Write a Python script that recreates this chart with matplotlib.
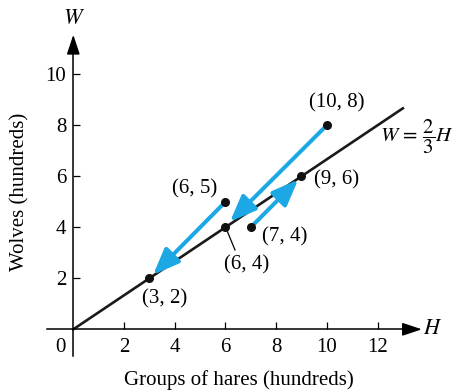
import numpy as np
import matplotlib.pyplot as plt

plt.rcParams['font.family'] = 'Liberation Serif'
plt.rcParams['mathtext.fontset'] = 'stix'

# estados del sistema liebres/lobos (cientos)
points_H = [10, 6, 6, 3, 7, 9]
points_W = [8, 5, 4, 2, 4, 6]
point_labels = ["(10, 8)", "(6, 5)", "(6, 4)", "(3, 2)", "(7, 4)", "(9, 6)"]
label_pos = [(10.4, 8.87), (4.8, 5.5), (6.85, 2.52), (3.62, 1.19), (8.35, 3.62), (10.4, 5.85)]

# flechas: (inicio) -> (punta)
arrows_start = [(10, 8), (6, 5), (7.1, 4.1)]
arrows_end = [(6.18, 4.22), (3.15, 2.14), (8.87, 5.87)]

H_line = np.array([0, 13])
xticks = [2, 4, 6, 8, 10, 12]
yticks = [2, 4, 6, 8, 10]

blue = '#1ba8e4'
fs = 15

fig = plt.figure(figsize=(4.59, 3.91), dpi=100)
ax = fig.add_axes([0.1017, 0.0893, 0.8174, 0.8217])
ax.set_xlim(-1.05, 13.75)
ax.set_ylim(-1.05, 11.55)

for s in ['top', 'right']:
    ax.spines[s].set_visible(False)
ax.spines['left'].set_position(('data', 0))
ax.spines['bottom'].set_position(('data', 0))
ax.spines['bottom'].set_bounds(-1.05, 13.3)
ax.spines['left'].set_bounds(-1.05, 11.0)
ax.spines['left'].set_linewidth(1.1)
ax.spines['bottom'].set_linewidth(1.1)

ax.set_xticks(xticks)
ax.set_yticks(yticks)
ax.tick_params(direction='in', length=5, width=0.9, labelsize=fs, pad=5)
ax.tick_params(axis='x', pad=6)

# puntas de los ejes
ax.annotate('', xy=(13.75, 0), xytext=(13.1, 0),
            arrowprops=dict(arrowstyle='-|>,head_length=0.6,head_width=0.2',
                            color='k', lw=1.1, mutation_scale=20, shrinkA=0, shrinkB=0))
ax.annotate('', xy=(0, 11.55), xytext=(0, 10.9),
            arrowprops=dict(arrowstyle='-|>,head_length=0.6,head_width=0.2',
                            color='k', lw=1.1, mutation_scale=20, shrinkA=0, shrinkB=0))

# recta W = 2/3 H
ax.plot(H_line, 2 / 3 * H_line, color='#1a1a1a', lw=1.9, zorder=2)

for (x0, y0), (x1, y1) in zip(arrows_start, arrows_end):
    ax.annotate('', xy=(x1, y1), xytext=(x0, y0),
                arrowprops=dict(arrowstyle='-|>,head_length=0.8,head_width=0.32',
                                color=blue, lw=2.9, mutation_scale=20,
                                shrinkA=0, shrinkB=0), zorder=3)

ax.plot(points_H, points_W, 'o', color='#111111', ms=5.5, zorder=4)

for lab, (tx, ty) in zip(point_labels, label_pos):
    ax.text(tx, ty, lab, fontsize=fs, ha='center', va='center')

# guía hacia (6, 4)
ax.plot([6.08, 6.38], [3.83, 3.11], color='k', lw=0.9)

ax.text(12.1, 7.54, r'$W\,=\,\dfrac{2}{3}H$', fontsize=15, ha='left', va='center')

fig.text(60 / 459, 1 - 347 / 391, '0', fontsize=fs, ha='center', va='center')
fig.text(74 / 459, 1 - 20 / 391, r'$W$', fontsize=16, ha='center', va='center')
fig.text(433 / 459, 1 - 329 / 391, r'$H$', fontsize=16, ha='center', va='center')
fig.text(239 / 459, 1 - 380 / 391, 'Groups of hares (hundreds)', fontsize=fs,
         ha='center', va='center')
fig.text(20 / 459, 1 - 192 / 391, 'Wolves (hundreds)', fontsize=fs,
         ha='center', va='center', rotation=90)

fig.savefig('out.png', dpi=100)
